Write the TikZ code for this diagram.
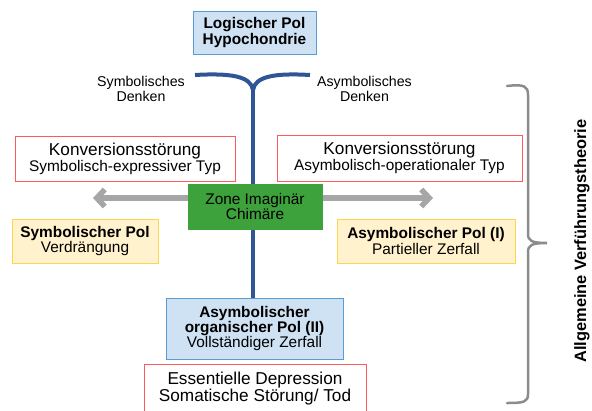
\documentclass[tikz,border=0pt]{standalone}
\usepackage{fontspec}
\setmainfont{Liberation Sans}
\usetikzlibrary{arrows.meta}
\definecolor{bluefill}{HTML}{CFE2F3}
\definecolor{blueline}{HTML}{5B9BD5}
\definecolor{redline}{HTML}{FF5A5A}
\definecolor{yelfill}{HTML}{FFF2CC}
\definecolor{yelline}{HTML}{FFD44F}
\definecolor{greenfill}{HTML}{3EA23C}
\definecolor{arrgray}{HTML}{A6A6A6}
\definecolor{stemblue}{HTML}{2F5597}
\definecolor{bracegray}{HTML}{8C8C8C}
\tikzset{
  box/.style={draw, line width=1pt, inner sep=0pt, align=center},
  bluebox/.style={box, fill=bluefill, draw=blueline},
  redbox/.style={box, fill=white, draw=redline},
  yelbox/.style={box, fill=yelfill, draw=yelline},
  greenbox/.style={box, fill=greenfill, draw=greenfill},
  lbl/.style={inner sep=0pt, align=center},
  grayarr/.style={draw=arrgray, line width=5.5pt, -{Straight Barb[length=8pt,width=17pt]}},
}
\newcommand{\fa}{\fontsize{15.4}{18}\selectfont}
\newcommand{\fb}{\fontsize{17.2}{19.5}\selectfont}
\newcommand{\fs}{\fontsize{14.2}{17.5}\selectfont}
\begin{document}
\begin{tikzpicture}[x=1pt,y=-1pt]
\useasboundingbox (0,0) rectangle (592,410);
% Y-shaped stem
\coordinate (yl) at (195,75);
\coordinate (yr) at (310,75);
\coordinate (yj) at (253,90);
\draw[stemblue, line width=4pt] (yl) .. controls (230,73) and (251,76) .. (yj);
\draw[stemblue, line width=4pt] (yr) .. controls (276,73) and (255,76) .. (yj);
\node[bluebox, minimum width=177pt, minimum height=61pt] (asym2) at (254.5,328.5)
  {\fa\textbf{Asymbolischer}\\\fa\textbf{organischer Pol (II)}\\\fa Vollständiger Zerfall};
\draw[stemblue, line width=4pt] (yj) -- (yj |- asym2.north);
% arrows
\coordinate (la) at (93,198);
\coordinate (ra) at (433,198);
\node[greenbox, minimum width=134pt, minimum height=45pt] (zone) at (255,206.5)
  {\fa Zone Imaginär\\\fa Chimäre};
\draw[grayarr] (zone.west |- la) -- (la);
\draw[grayarr] (zone.east |- ra) -- (ra);
% boxes
\node[bluebox, minimum width=123pt, minimum height=43pt] (log) at (254.5,32.5)
  {\fa\textbf{Logischer Pol}\\\fa\textbf{Hypochondrie}};
\node[lbl] (sd) at (141,89) {\fs Symbolisches\\\fs Denken};
\node[lbl] (ad) at (364.5,89) {\fs Asymbolisches\\\fs Denken};
\node[redbox, minimum width=220pt, minimum height=45pt] (konl) at (125,158.5)
  {\fb Konversionsstörung\\\fa Symbolisch-expressiver Typ};
\node[redbox, minimum width=245pt, minimum height=46pt] (konr) at (399.5,158)
  {\fb Konversionsstörung\\\fa Asymbolisch-operationaler Typ};
\node[yelbox, minimum width=146pt, minimum height=44pt] (spol) at (85,241)
  {\fa\textbf{Symbolischer Pol}\\\fa Verdrängung};
\node[yelbox, minimum width=178pt, minimum height=44pt] (apol) at (426,241)
  {\fa\textbf{Asymbolischer Pol (I)}\\\fa Partieller Zerfall};
\node[redbox, minimum width=222pt, minimum height=50pt] (ess) at (255,389)
  {\fb Essentielle Depression\\\fb Somatische Störung/ Tod};
% brace
\draw[bracegray, line width=2.5pt, line cap=round]
  (507,86) .. controls (524,84) and (528,86) .. (528,95) -- (528,234)
  .. controls (528,241) and (532,243) .. (547,243)
  .. controls (532,243) and (528,245) .. (528,252) -- (528,394)
  .. controls (528,402) and (524,403) .. (507,403);
\node[lbl, rotate=90] (allg) at (582,241) {\fontsize{16.4}{19}\selectfont\textbf{Allgemeine Verführungstheorie}};
\end{tikzpicture}
\end{document}
